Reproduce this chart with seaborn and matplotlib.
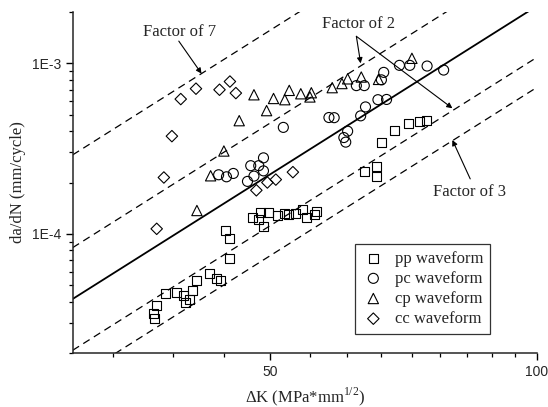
import numpy as np
import pandas as pd
import seaborn as sns
import matplotlib
matplotlib.use("Agg")
import matplotlib.pyplot as plt
from matplotlib.ticker import FixedLocator, FuncFormatter, LogLocator, NullFormatter

# ---------------- data ----------------
pp_dk = [37.0, 37.1, 37.3, 38.2, 39.3, 40.0, 40.2, 40.6, 40.9, 41.4, 42.8, 43.6, 44.0,
         44.6, 45.1, 45.1, 47.8, 48.6, 48.8, 49.2, 49.8, 51.0, 51.9, 52.5, 53.5, 54.4,
         55.0, 56.1, 56.5, 63.9, 65.9, 66.0, 66.8, 69.1, 71.6, 73.8, 75.1]
pp_dadn = [3.42e-5, 3.19e-5, 3.79e-5, 4.48e-5, 4.52e-5, 4.32e-5, 3.94e-5, 4.13e-5, 4.64e-5,
           5.29e-5, 5.87e-5, 5.49e-5, 5.36e-5, 1.045e-4, 9.35e-5, 7.13e-5, 1.25e-4, 1.21e-4,
           1.33e-4, 1.11e-4, 1.33e-4, 1.28e-4, 1.31e-4, 1.29e-4, 1.32e-4, 1.38e-4, 1.24e-4,
           1.29e-4, 1.35e-4, 2.31e-4, 2.49e-4, 2.17e-4, 3.42e-4, 4.05e-4, 4.41e-4, 4.58e-4,
           4.6e-4]

pc_dk = [43.8, 44.7, 45.5, 47.2, 47.6, 48.0, 48.6, 49.2, 49.2, 51.8, 58.3, 59.1, 60.6,
         60.9, 61.2, 62.6, 63.9, 63.3, 64.1, 66.2, 67.7, 66.8, 67.2, 70.0, 71.9, 75.2, 78.5]
pc_dadn = [2.22e-4, 2.16e-4, 2.26e-4, 2.03e-4, 2.51e-4, 2.18e-4, 2.51e-4, 2.79e-4, 2.34e-4,
           4.21e-4, 4.81e-4, 4.8e-4, 3.67e-4, 3.45e-4, 4.0e-4, 7.4e-4, 7.4e-4, 4.92e-4,
           5.55e-4, 6.12e-4, 6.14e-4, 8.0e-4, 8.85e-4, 9.73e-4, 9.73e-4, 9.64e-4, 9.13e-4]

cp_dk = [41.4, 42.9, 44.4, 46.2, 48.0, 49.6, 50.5, 52.0, 52.6, 54.2, 55.7, 55.5, 58.8,
         60.3, 61.2, 63.4, 66.3, 72.3]
cp_dadn = [1.37e-4, 2.19e-4, 3.06e-4, 4.61e-4, 6.54e-4, 5.28e-4, 6.22e-4, 6.12e-4, 6.94e-4,
           6.63e-4, 6.72e-4, 6.35e-4, 7.2e-4, 7.61e-4, 8.11e-4, 8.31e-4, 8.05e-4, 1.07e-3]

cc_dk = [37.3, 38.0, 38.8, 39.7, 41.3, 43.9, 45.1, 45.8, 48.3, 49.7, 50.8, 53.1]
cc_dadn = [1.07e-4, 2.14e-4, 3.74e-4, 6.17e-4, 7.1e-4, 7.0e-4, 7.82e-4, 6.69e-4, 1.8e-4,
           2.0e-4, 2.08e-4, 2.3e-4]

series_names = ["pp waveform", "pc waveform", "cp waveform", "cc waveform"]

# mean fit line (end points) and scatter-band factors
fit_dk = [30.0, 100.0]
fit_dadn = [4.15e-5, 2.17e-3]
band_factors = [7.0, 2.0, 1 / 2.0, 1 / 3.0]

x_major = [50, 100]
y_major = [1e-4, 1e-3]
y_tick_labels = ["1E-4", "1E-3"]

# ---------------- style ----------------
sns.set_style("ticks")
plt.rcParams["font.family"] = ["Liberation Serif", "DejaVu Serif"]
plt.rcParams["mathtext.fontset"] = "custom"
plt.rcParams["mathtext.rm"] = "Liberation Serif"

fig = plt.figure(figsize=(5.48, 4.07), dpi=100)
ax = fig.add_axes([72.7 / 548, 54 / 407, 464.3 / 548, 341 / 407])
ax.set_xscale("log")
ax.set_yscale("log")
ax.set_xlim(30, 100)
ax.set_ylim(2e-5, 2e-3)

# lines
ax.plot(fit_dk, fit_dadn, color="black", lw=1.3, zorder=2)
for f in band_factors:
    ax.plot(fit_dk, [v * f for v in fit_dadn], color="black", lw=0.9,
            linestyle=(0, (6, 4)), zorder=2)

# scatter
frames = []
for name, xs, ys in zip(series_names, [pp_dk, pc_dk, cp_dk, cc_dk],
                        [pp_dadn, pc_dadn, cp_dadn, cc_dadn]):
    frames.append(pd.DataFrame({"dk": xs, "dadn": ys, "waveform": name}))
df = pd.concat(frames, ignore_index=True)

marker_map = {"pp waveform": "s", "pc waveform": "o", "cp waveform": "^", "cc waveform": "D"}
size_map = {"pp waveform": 42, "pc waveform": 52, "cp waveform": 55, "cc waveform": 34}
for name in series_names:
    sub = df[df["waveform"] == name]
    sns.scatterplot(data=sub, x="dk", y="dadn", marker=marker_map[name], s=size_map[name],
                    facecolor="none", edgecolor="black", linewidth=0.8, label=name,
                    ax=ax, zorder=3)

# axes styling
sns.despine(ax=ax)
for sp in ["left", "bottom"]:
    ax.spines[sp].set_linewidth(1.1)
ax.xaxis.set_major_locator(FixedLocator(x_major))
ax.xaxis.set_major_formatter(FuncFormatter(lambda v, p: f"{v:g}"))
x_minor = [100 / 3, 350 / 9, 400 / 9] + [50 + 50 * k / 9 for k in range(1, 9)]
ax.xaxis.set_minor_locator(FixedLocator(x_minor))
ax.xaxis.set_minor_formatter(NullFormatter())
ax.yaxis.set_major_locator(FixedLocator(y_major))
ax.yaxis.set_major_formatter(FuncFormatter(lambda v, p: dict(zip(y_major, y_tick_labels)).get(v, "")))
ax.yaxis.set_minor_locator(LogLocator(base=10, subs=np.arange(2, 10)))
ax.yaxis.set_minor_formatter(NullFormatter())
ax.tick_params(which="major", length=5, width=1.0, direction="out", labelsize=10, color="black")
ax.tick_params(which="minor", length=3, width=0.9, direction="out", color="black")
for lab in ax.get_xticklabels() + ax.get_yticklabels():
    lab.set_family(["Liberation Sans", "DejaVu Sans"])

ax.set_xlabel("ΔK (MPa*mm$^{\\mathrm{1/2}}$)", fontsize=12, labelpad=5)
ax.set_ylabel("da/dN (mm/cycle)", fontsize=12, labelpad=4)

# annotations
arrow_kw = dict(arrowstyle="-|>", color="black", lw=0.8, mutation_scale=8,
                shrinkA=0, shrinkB=0)
ax.text(39.6, 1.52e-3, "Factor of 7", fontsize=12, ha="center", va="center")
ax.annotate("", xy=(41.9, 8.7e-4), xytext=(39.5, 1.35e-3), arrowprops=arrow_kw)

ax.text(62.9, 1.70e-3, "Factor of 2", fontsize=12, ha="center", va="center")
ax.annotate("", xy=(63.3, 1.0e-3), xytext=(62.6, 1.44e-3), arrowprops=arrow_kw)
ax.annotate("", xy=(80.3, 5.45e-4), xytext=(62.6, 1.44e-3), arrowprops=arrow_kw)

ax.text(83.9, 1.77e-4, "Factor of 3", fontsize=12, ha="center", va="center")
ax.annotate("", xy=(80.3, 3.55e-4), xytext=(84.1, 2.1e-4), arrowprops=arrow_kw)

leg = ax.legend(loc="upper left", bbox_to_anchor=(0.608, 0.32), frameon=True,
                fancybox=False, edgecolor="black", fontsize=12, borderpad=0.4,
                labelspacing=0.25, handletextpad=0.6, handlelength=1.4,
                borderaxespad=0)
leg.get_frame().set_linewidth(0.9)

fig.savefig("out.png", dpi=100)
